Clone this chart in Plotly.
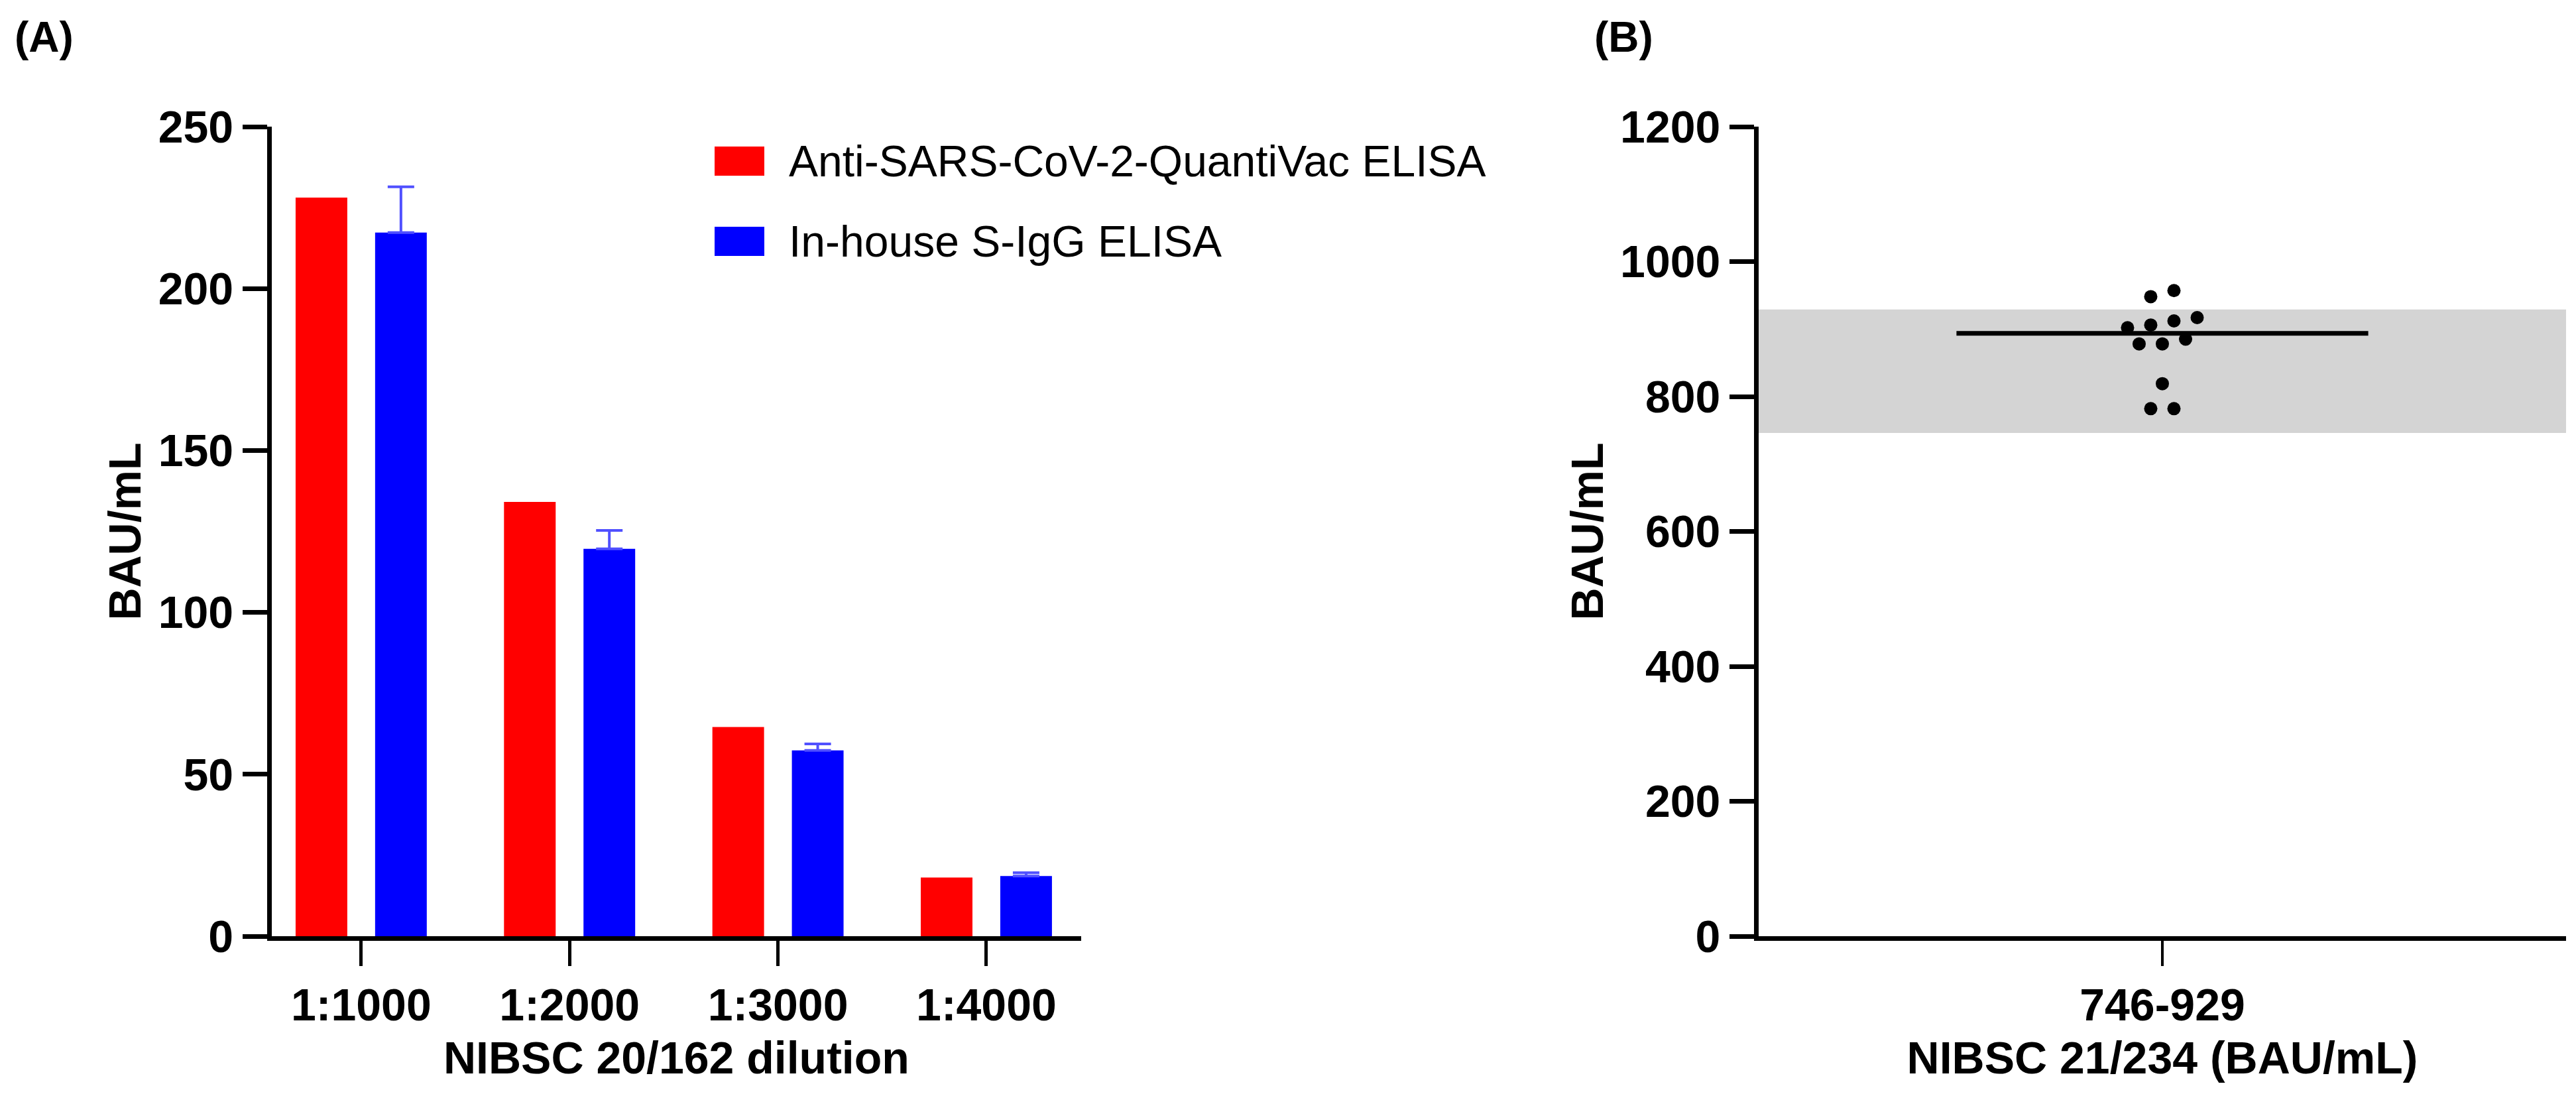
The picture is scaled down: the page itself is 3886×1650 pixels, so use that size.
import statistics
import plotly.graph_objects as go

# ---------------------------------------------------------------------------
# Data
# ---------------------------------------------------------------------------

dilutions = ["1:1000", "1:2000", "1:3000", "1:4000"]
quantivac_bau = [228.1, 134.1, 64.6, 18.1]
inhouse_bau = [217.3, 119.6, 57.4, 18.6]
inhouse_sd = [14.1, 5.7, 2.0, 1.0]

series_names = ["Anti-SARS-CoV-2-QuantiVac ELISA", "In-house S-IgG ELISA"]

nibsc_21_234_bau = [957, 948, 917, 912, 906, 902, 885, 878, 878, 819, 782, 782]
band_low, band_high = 746, 929
band_label = f"{band_low}-{band_high}"

# ---------------------------------------------------------------------------
# Style
# ---------------------------------------------------------------------------

W, H = 3886, 1650
FONT = "Liberation Sans, Arial, sans-serif"
RED = "#ff0000"
BLUE = "#0000ff"
ERR_BLUE = "#5050ff"
BAND_GREY = "#d4d4d4"

Y_DOMAIN = [1 - 1404 / H, 1 - 183 / H]
A_DOMAIN = [401.7 / W, 1623 / W]
B_DOMAIN = [2645 / W, 3863 / W]


def px_x(p):
    return p / W


def px_y(p):
    return 1 - p / H


def swarm_offsets(vals, gap, step):
    """Group close values into rows and spread each row around the centre."""
    order = sorted(range(len(vals)), key=lambda i: -vals[i])
    rows = []
    for i in order:
        if rows and vals[rows[-1][-1]] - vals[i] <= gap:
            rows[-1].append(i)
        else:
            rows.append([i])
    offs = [0.0] * len(vals)
    for row in rows:
        row = sorted(row, key=lambda i: vals[i])
        n = len(row)
        for k, i in enumerate(row):
            offs[i] = (k - (n - 1) / 2) * step
    return offs


fig = go.Figure()

# Panel A: grouped bars
fig.add_trace(go.Bar(
    x=dilutions, y=quantivac_bau, name=series_names[0],
    marker=dict(color=RED, line=dict(width=0)),
    xaxis="x", yaxis="y", showlegend=False,
))
fig.add_trace(go.Bar(
    x=dilutions, y=inhouse_bau, name=series_names[1],
    marker=dict(color=BLUE, line=dict(width=0)),
    error_y=dict(type="data", array=inhouse_sd, arrayminus=[0] * len(inhouse_sd),
                 symmetric=False, color=ERR_BLUE, thickness=4, width=20),
    xaxis="x", yaxis="y", showlegend=False,
))

# Panel B: dot plot with median line
offsets = swarm_offsets(nibsc_21_234_bau, gap=12, step=0.0575)
fig.add_trace(go.Scatter(
    x=offsets, y=nibsc_21_234_bau, mode="markers",
    marker=dict(color="black", size=20, line=dict(width=0)),
    xaxis="x2", yaxis="y2", showlegend=False,
))
med = statistics.median(nibsc_21_234_bau)
fig.add_trace(go.Scatter(
    x=[-0.51, 0.51], y=[med, med], mode="lines",
    line=dict(color="black", width=7),
    xaxis="x2", yaxis="y2", showlegend=False,
))

fig.add_shape(
    type="rect", xref="x2 domain", yref="y2",
    x0=0, x1=1, y0=band_low, y1=band_high,
    fillcolor=BAND_GREY, line=dict(width=0), layer="below",
)

axis_common = dict(
    showline=True, linewidth=7, linecolor="black", mirror=False,
    showgrid=False, zeroline=False, ticks="outside", tickcolor="black",
    tickfont=dict(family=FONT, size=68, color="black", weight="bold"),
    automargin=False, fixedrange=True,
)
title_font = dict(family=FONT, size=68, color="black", weight="bold")

fig.update_layout(
    width=W, height=H,
    margin=dict(l=0, r=0, t=0, b=0),
    paper_bgcolor="white", plot_bgcolor="white",
    template="none",
    barmode="group", bargap=0.237, bargroupgap=0.35,
    font=dict(family=FONT, color="black"),
    showlegend=False,
    xaxis=dict(
        **axis_common, domain=A_DOMAIN, anchor="y",
        type="category", range=[-0.43, 3.455],
        ticklen=38, tickwidth=5,
        title=dict(text="NIBSC 20/162 dilution", font=title_font, standoff=22),
    ),
    yaxis=dict(
        **axis_common, domain=Y_DOMAIN, anchor="x",
        range=[0, 250], tick0=0, dtick=50,
        ticklen=37, tickwidth=7,
        title=dict(text="BAU/mL", font=title_font, standoff=6),
    ),
    xaxis2=dict(
        **axis_common, domain=B_DOMAIN, anchor="y2",
        range=[-1, 1], tickvals=[0], ticktext=[band_label],
        ticklen=38, tickwidth=4,
        title=dict(text="NIBSC 21/234 (BAU/mL)", font=title_font, standoff=22),
    ),
    yaxis2=dict(
        **axis_common, domain=Y_DOMAIN, anchor="x2",
        range=[0, 1200], tick0=0, dtick=200,
        ticklen=37, tickwidth=7,
        title=dict(text="BAU/mL", font=title_font, standoff=6),
    ),
)

# Legend drawn by hand so the swatches are as large as in the original
legend_rows = [(235, RED), (356, BLUE)]
for (cy, colour), name in zip(legend_rows, series_names):
    fig.add_shape(
        type="rect", xref="paper", yref="paper",
        x0=px_x(1070), x1=px_x(1145), y0=px_y(cy + 22), y1=px_y(cy - 22),
        fillcolor=colour, line=dict(width=0),
    )
    fig.add_annotation(
        text=name, xref="paper", yref="paper",
        x=px_x(1180), y=px_y(cy), xanchor="left", yanchor="middle",
        showarrow=False, font=dict(family=FONT, size=66, color="black"),
    )

# Panel letters
for label, x in [("(A)", 12), ("(B)", 2395)]:
    fig.add_annotation(
        text=label, xref="paper", yref="paper",
        x=px_x(x), y=px_y(10), xanchor="left", yanchor="top",
        showarrow=False, font=dict(family=FONT, size=64, color="black", weight="bold"),
    )

fig.write_html("out.html")
